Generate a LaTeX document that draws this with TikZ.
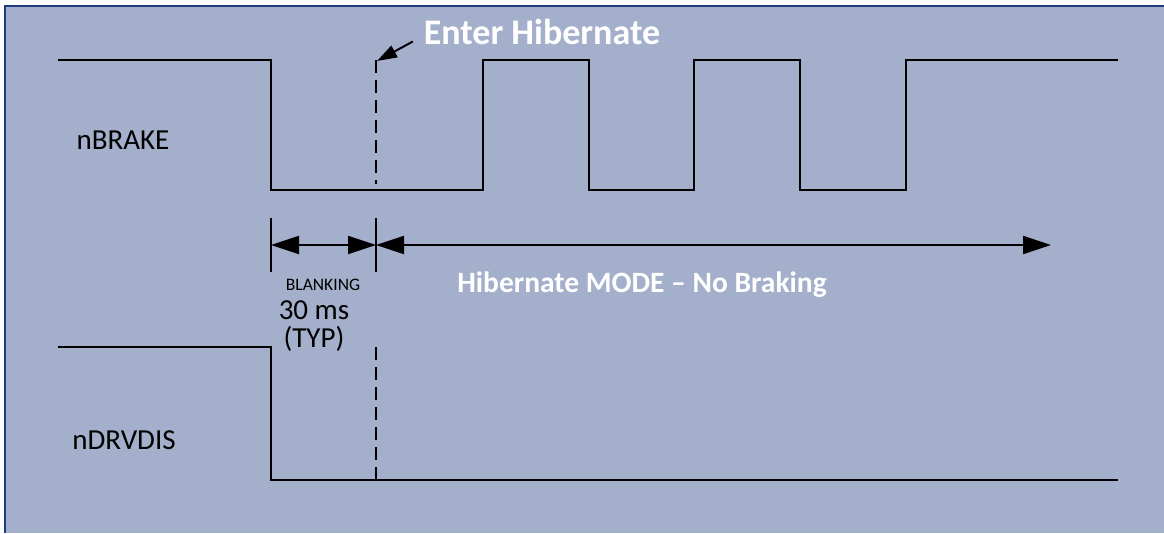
\documentclass[tikz,border=0pt]{standalone}
\usepackage{fontspec}
\setmainfont{Carlito}
\usetikzlibrary{arrows.meta}

\begin{document}
\begin{tikzpicture}[x=1pt,y=-1pt,line width=2pt]
\definecolor{panel}{HTML}{A4AFCB}
\definecolor{frame}{HTML}{1F3C7C}
\tikzset{sig/.style={line width=2.2pt,line join=miter},
  marker/.style={line width=2.2pt,dash pattern=on 13pt off 7pt},
  dim/.style={line width=2pt,{Triangle[length=28pt,width=18pt]}-{Triangle[length=28pt,width=18pt]}},
  label/.style={inner sep=0pt,font=\fontsize{29}{34}\selectfont},
  note/.style={inner sep=0pt,text=white,font=\bfseries\fontsize{29.5}{34}\selectfont}}
\useasboundingbox (0,0) rectangle (1164,533);
\fill[white] (0,0) rectangle (1164,533);
\fill[panel] (5,6) rectangle (1164,533);
\draw[frame,line width=2.5pt] (5,533) -- (5,6) -- (1164,6);
% signal names
\node[label] (brake) at (123,140) {nBRAKE};
\node[label] (drvdis) at (124,440) {nDRVDIS};
% nBRAKE waveform
\draw[sig] (58,60) -- (271,60) -- (271,190) -- (483,190) -- (483,60) -- (589,60) -- (589,190) -- (694,190) -- (694,60) -- (800,60) -- (800,190) -- (906,190) -- (906,60) -- (1118,60);
% nDRVDIS waveform
\draw[sig] (58,347) -- (271,347) -- (271,480) -- (1118,480);
% hibernate entry marker
\draw[marker] (376,60) -- (376,184);
\draw[marker] (376,347) -- (376,480);
\node[note,font=\bfseries\fontsize{36}{40}\selectfont] (enter) at (542,32) {Enter Hibernate};
\coordinate (entry) at (377,61);
\draw[line width=2pt,-{Triangle[length=20pt,width=13pt]}] ([xshift=-10pt,yshift=3pt]enter.base west) -- (entry);
% blanking time
\coordinate (blankL) at (271,245);
\coordinate (blankR) at (376,245);
\coordinate (hibEnd) at (1051,245);
\draw (271,218) -- (271,272);
\draw (376,218) -- (376,272);
\draw[dim] (blankL) -- (blankR);
\draw[dim] (blankR) -- (hibEnd);
\node[inner sep=0pt,font=\fontsize{17.5}{18}\selectfont] (blank) at (323,285) {BLANKING};
\node[label,align=center,font=\fontsize{29}{28}\selectfont] (typ) at (314,326) {30 ms\\(TYP)};
\node[note] (mode) at (642,285) {Hibernate MODE -- No Braking};
\end{tikzpicture}
\end{document}
